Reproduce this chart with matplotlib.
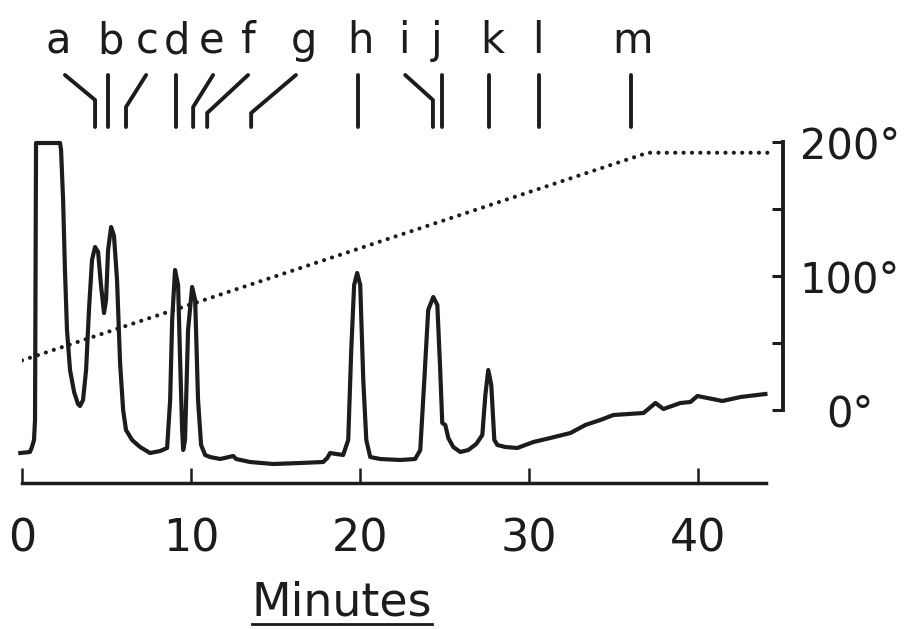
import matplotlib
matplotlib.use("Agg")
import matplotlib.pyplot as plt
from matplotlib.lines import Line2D
from matplotlib.ticker import FixedLocator

# detector trace: time (min) and response (arbitrary units)
trace_time = [-0.1, 0.47, 0.59, 0.71, 0.77, 0.83, 2.25, 2.31, 2.43, 2.54, 2.66, 2.84,
              3.08, 3.31, 3.43, 3.61, 3.79, 3.96, 4.14, 4.32, 4.50, 4.67, 4.85, 4.97,
              5.09, 5.27, 5.44, 5.62, 5.80, 5.98, 6.15, 6.51, 6.98, 7.57, 8.17, 8.58,
              8.76, 8.88, 9.05, 9.23, 9.35, 9.47, 9.53, 9.64, 9.82, 10.06, 10.24, 10.41,
              10.59, 10.83, 11.12, 11.72, 12.49, 12.66, 13.49, 14.85, 16.45, 17.81, 18.05,
              18.22, 18.58, 18.99, 19.29, 19.47, 19.64, 19.82, 20.00, 20.18, 20.36, 20.59,
              21.18, 22.37, 23.25, 23.55, 23.79, 24.02, 24.32, 24.56, 24.73, 24.85, 25.03,
              25.21, 25.50, 25.92, 26.39, 26.86, 27.22, 27.40, 27.57, 27.75, 27.93, 28.11,
              28.58, 29.29, 29.76, 30.24, 31.24, 32.43, 33.31, 34.20, 34.97, 36.75, 37.46,
              37.93, 38.93, 39.53, 39.94, 40.53, 41.42, 42.49, 43.96]
trace_signal = [30, 31, 36, 43, 63, 340, 340, 333, 283, 213, 153, 113,
                91, 79, 77, 83, 113, 173, 223, 236, 231, 198, 170, 183,
                233, 256, 247, 203, 120, 73, 53, 43, 36, 30, 32, 35,
                83, 163, 213, 198, 123, 53, 33, 43, 153, 196, 183, 83,
                38, 28, 26, 24, 27, 24, 21, 19, 20, 21, 25,
                30, 29, 28, 43, 133, 198, 210, 198, 103, 43, 26,
                24, 23, 24, 33, 103, 173, 186, 178, 113, 60, 58,
                45, 36, 31, 33, 39, 48, 88, 113, 98, 43, 38,
                36, 35, 38, 41, 45, 50, 58, 63, 68, 70, 80,
                74, 80, 81, 87, 85, 82, 86, 89]

# oven temperature programme
temp_time = [0.0, 37.0, 44.1]
temp_deg = [37, 192, 192]

# compound identification marks
peak_names = ["a", "b", "c", "d", "e", "f", "g", "h", "i", "j", "k", "l", "m"]
label_time = [2.13, 5.2, 7.4, 9.17, 11.2, 13.4, 16.7, 20.0, 22.6, 24.5, 27.8, 30.5, 36.1]
mark_top = [2.54, 5.09, 7.34, 9.11, 11.3, 13.37, 16.2, 19.88, 22.66, 24.85, 27.63, 30.59, 36.04]
mark_bottom = [4.32, 5.09, 6.15, 9.11, 10.12, 10.95, 13.55, 19.88, 24.3, 24.85, 27.63, 30.59, 36.04]

x_ticks = [0, 10, 20, 30, 40]
temp_ticks = [0, 100, 200]
temp_minor = [50, 150]

ink = "#1c1c1c"

fig = plt.figure(figsize=(9.06, 6.29), dpi=100)
ax = fig.add_axes([22 / 906, 1 - 483 / 629, (783 - 22) / 906, (483 - 140) / 629])
ax.set_xlim(0, 45)
ax.set_ylim(0, 343)

ax.plot(trace_time, trace_signal, color=ink, lw=3.0, solid_joinstyle="round",
        clip_on=False)

for s in ["top", "left", "right"]:
    ax.spines[s].set_visible(False)
ax.spines["bottom"].set_bounds(0, 44)
ax.spines["bottom"].set_linewidth(2.5)
ax.spines["bottom"].set_color(ink)
ax.set_yticks([])
ax.set_xticks(x_ticks)
ax.tick_params(axis="x", direction="in", length=11, width=1.8, color=ink,
               pad=25, labelsize=32, labelcolor=ink)

# marks above the trace (y in axis units = pixels above the time axis)
bend_level = [383, 356, 376, 356, 376, 370, 370, 356, 383, 356, 356, 356, 356]
for name, lt, top, bot, bend in zip(peak_names, label_time, mark_top, mark_bottom, bend_level):
    ax.plot([top, bot, bot], [408, bend, 356], color=ink, lw=2.8,
            solid_capstyle="round", clip_on=False)
    ax.text(lt, 430, name, ha="center", va="baseline", fontsize=30,
            color=ink, clip_on=False)

# temperature axis
ax2 = ax.twinx()
ax2.set_ylim(-54.5, 201.5)
ax2.plot(temp_time, temp_deg, color=ink, lw=3.0, linestyle=(0, (0.01, 2.0)),
         dash_capstyle="round")
for s in ["top", "left", "bottom"]:
    ax2.spines[s].set_visible(False)
ax2.spines["right"].set_bounds(0, 200)
ax2.spines["right"].set_linewidth(2.8)
ax2.spines["right"].set_color(ink)
ax2.set_yticks(temp_ticks)
ax2.yaxis.set_minor_locator(FixedLocator(temp_minor))
ax2.set_yticklabels([f"{t}\u00b0" for t in temp_ticks])
ax2.tick_params(axis="y", which="both", direction="in", length=8, width=2.2,
                color=ink)
ax2.tick_params(axis="y", which="major", pad=48, labelsize=30, labelcolor=ink)
for lab in ax2.get_yticklabels():
    lab.set_ha("center")

xl = fig.text(342 / 906, 1 - 616 / 629, "Minutes", ha="center", va="baseline",
              fontsize=33, color=ink)
fig.canvas.draw()
bb = xl.get_window_extent().transformed(fig.transFigure.inverted())
fig.add_artist(Line2D([bb.x0, bb.x1], [1 - 624 / 629] * 2, color=ink, lw=2,
                      transform=fig.transFigure))

fig.savefig("out.png", dpi=100)
